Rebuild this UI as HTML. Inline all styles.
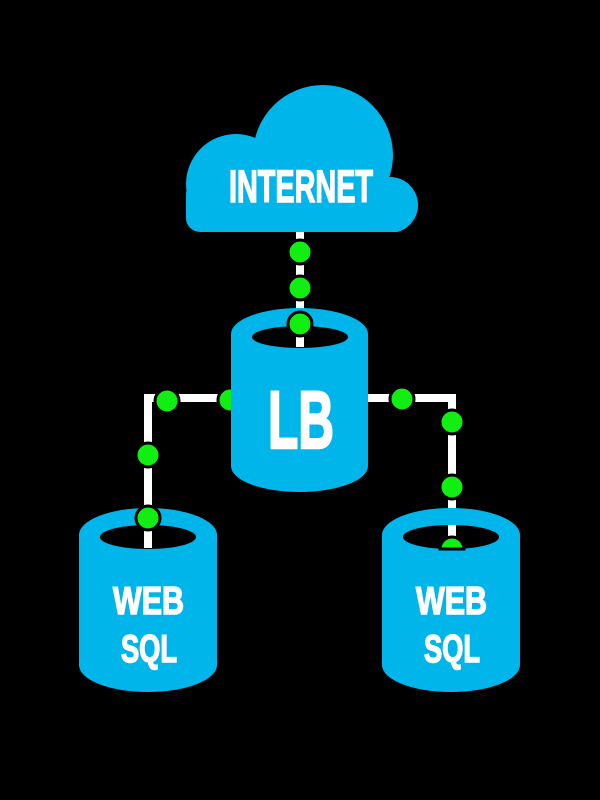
<!DOCTYPE html>
<html><head><meta charset="utf-8"><style>html,body{margin:0;padding:0;background:#000}svg{display:block}</style></head>
<body>
<svg width="600" height="800" viewBox="0 0 600 800" xmlns="http://www.w3.org/2000/svg">
<rect width="600" height="800" fill="#000"/>
<g stroke="#fff" stroke-width="8" fill="none">
  <line x1="300" y1="232" x2="300" y2="347"/>
  <polyline points="231,398 148,398 148,548"/>
  <polyline points="368,398 452,398 452,548"/>
</g>
<circle cx="230" cy="400" r="12" fill="#11ee11" stroke="#000" stroke-width="3"/>
<g fill="#00b5ea">
  <circle cx="323" cy="155" r="70"/>
  <circle cx="236" cy="184" r="50"/>
  <circle cx="390" cy="205" r="28"/>
  <rect x="236" y="180" width="154" height="52"/>
  <rect x="186" y="180" width="70" height="52" rx="14"/>
</g>
<g fill="#000"><rect x="180" y="232" width="250" height="10"/></g>
<text x="229" y="202" textLength="144" lengthAdjust="spacingAndGlyphs" font-family="Liberation Sans, sans-serif" font-weight="bold" font-size="45" fill="#fff" stroke="#fff" stroke-width="1.5">INTERNET</text>
<g stroke="#fff" stroke-width="8"><line x1="300" y1="232" x2="300" y2="245"/></g>

<!-- LB cylinder -->
<g fill="#00b5ea">
  <rect x="231" y="334" width="137" height="132"/>
  <ellipse cx="299.5" cy="334" rx="68.5" ry="26"/>
  <ellipse cx="299.5" cy="466" rx="68.5" ry="26"/>
</g>
<ellipse cx="300" cy="337" rx="48" ry="11" fill="#000"/>
<line x1="300" y1="326" x2="300" y2="347" stroke="#fff" stroke-width="8"/>
<text x="268" y="448" textLength="66" lengthAdjust="spacingAndGlyphs" font-family="Liberation Sans, sans-serif" font-weight="bold" font-size="82" fill="#fff" stroke="#fff" stroke-width="2.5">LB</text>

<!-- WEB SQL cylinders -->
<g fill="#00b5ea">
  <rect x="79" y="535" width="138" height="130"/>
  <ellipse cx="148" cy="535" rx="69" ry="27"/>
  <ellipse cx="148" cy="665" rx="69" ry="27"/>
  <rect x="382" y="535" width="138" height="130"/>
  <ellipse cx="451" cy="535" rx="69" ry="27"/>
  <ellipse cx="451" cy="665" rx="69" ry="27"/>
</g>
<ellipse cx="148" cy="537" rx="48" ry="12" fill="#000"/>
<ellipse cx="451" cy="537" rx="48" ry="12" fill="#000"/>
<line x1="148" y1="525" x2="148" y2="548" stroke="#fff" stroke-width="8"/>
<line x1="452" y1="525" x2="452" y2="548" stroke="#fff" stroke-width="8"/>
<g font-family="Liberation Sans, sans-serif" font-weight="bold" font-size="39" fill="#fff" stroke="#fff" stroke-width="1.5">
  <text x="113" y="614" textLength="71" lengthAdjust="spacingAndGlyphs">WEB</text>
  <text x="121" y="662" textLength="56" lengthAdjust="spacingAndGlyphs">SQL</text>
  <text x="416" y="614" textLength="71" lengthAdjust="spacingAndGlyphs">WEB</text>
  <text x="424" y="662" textLength="56" lengthAdjust="spacingAndGlyphs">SQL</text>
</g>

<g fill="#11ee11" stroke="#000" stroke-width="3">
  <circle cx="300" cy="252" r="12"/>
  <circle cx="300" cy="288" r="12"/>
  <circle cx="300" cy="324" r="12"/>
  <circle cx="167" cy="401" r="12"/>
  <circle cx="148" cy="455" r="12"/>
  <circle cx="148" cy="518" r="12"/>
  <circle cx="402" cy="399" r="12"/>
  <circle cx="452" cy="422" r="12"/>
  <circle cx="452" cy="487" r="12"/>
</g>
<path d="M440,549 A12,12 0 0 1 464,549 Z" fill="#11ee11" stroke="#000" stroke-width="3"/>
</svg>
</body></html>
